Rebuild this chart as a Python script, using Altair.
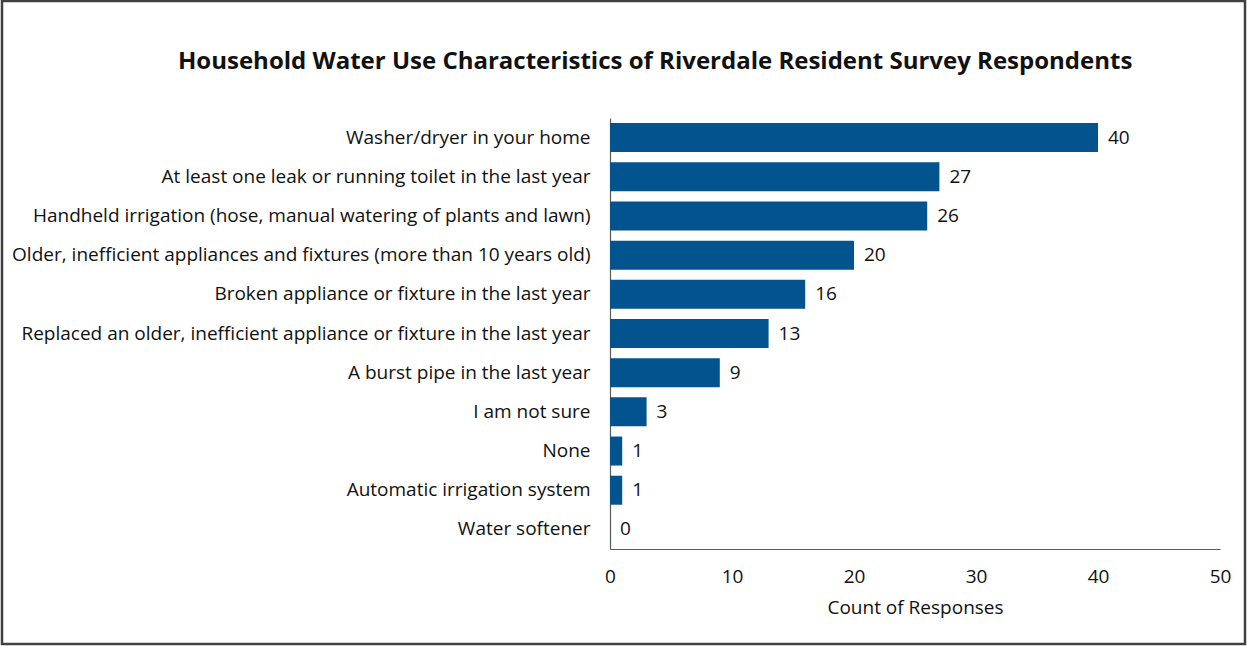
import altair as alt
import pandas as pd

# Survey responses: household water-use characteristics
characteristics = [
    "Washer/dryer in your home",
    "At least one leak or running toilet in the last year",
    "Handheld irrigation (hose, manual watering of plants and lawn)",
    "Older, inefficient appliances and fixtures (more than 10 years old)",
    "Broken appliance or fixture in the last year",
    "Replaced an older, inefficient appliance or fixture in the last year",
    "A burst pipe in the last year",
    "I am not sure",
    "None",
    "Automatic irrigation system",
    "Water softener",
]
counts = [40, 27, 26, 20, 16, 13, 9, 3, 1, 1, 0]
chart_title = "Household Water Use Characteristics of Riverdale Resident Survey Respondents"

df = pd.DataFrame({"item": characteristics, "count": counts})

FONT = "Open Sans"
FS = 19
BAR = "#03538F"
TXT = "#111111"
W, H = 610, 431
LEFT, TOP = 610, 118

y_enc = alt.Y(
    "item:N",
    sort=characteristics,
    title=None,
    scale=alt.Scale(paddingInner=0.26, paddingOuter=0.13),
    axis=alt.Axis(
        ticks=False,
        labelPadding=20,
        labelFontSize=FS,
        labelFont=FONT,
        labelColor=TXT,
        labelLimit=700,
        domainColor="#595959",
        domainWidth=1.2,
    ),
)
x_enc = alt.X(
    "count:Q",
    title="Count of Responses",
    scale=alt.Scale(domain=[0, 50], nice=False),
    axis=alt.Axis(
        values=[0, 10, 20, 30, 40, 50],
        ticks=False,
        grid=False,
        labelFlush=False,
        labelPadding=18,
        labelFontSize=FS,
        labelFont=FONT,
        labelColor=TXT,
        titleFontSize=FS,
        titleFont=FONT,
        titleFontWeight="normal",
        titleColor=TXT,
        titlePadding=12,
        domainColor="#595959",
        domainWidth=1.2,
    ),
)

bars = alt.Chart(df).mark_bar(color=BAR).encode(y=y_enc, x=x_enc)

labels = alt.Chart(df).mark_text(
    align="left", baseline="middle", dx=10, fontSize=FS, font=FONT, color=TXT
).encode(y=alt.Y("item:N", sort=characteristics), x="count:Q", text="count:Q")

# chart heading, placed in the top margin above the plot
heading = alt.Chart(pd.DataFrame({"t": [chart_title]})).mark_text(
    align="left", baseline="middle", font=FONT, fontSize=24, fontWeight="bold", color=TXT
).encode(x=alt.value(178 - LEFT), y=alt.value(62 - TOP), text="t:N")

# outer frame around the whole figure
frame = alt.Chart(pd.DataFrame({"t": [0]})).mark_rect(
    filled=False, stroke="#404040", strokeWidth=2.5
).encode(
    x=alt.value(-LEFT + 2),
    x2=alt.value(1247 - LEFT - 2),
    y=alt.value(-TOP + 1),
    y2=alt.value(646 - TOP - 2),
)

chart = (
    alt.layer(bars, labels, heading, frame)
    .properties(
        width=W,
        height=H,
        padding={"left": LEFT, "top": TOP, "right": 1247 - LEFT - W, "bottom": 646 - TOP - H},
        autosize=alt.AutoSizeParams(type="none"),
        background="white",
    )
    .configure_view(stroke=None, strokeWidth=0)
)

chart.save("out.html", embed_options={"renderer": "svg", "actions": False})
